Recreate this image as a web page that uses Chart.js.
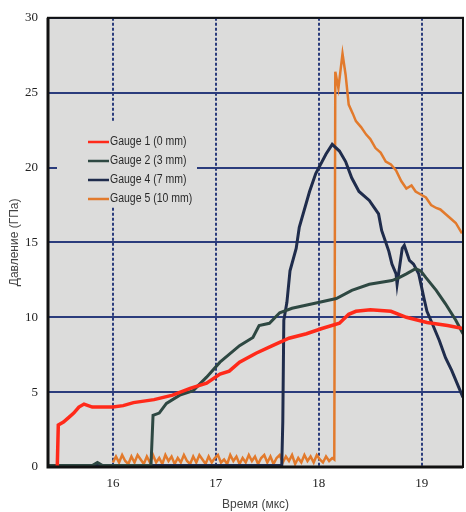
<!DOCTYPE html>
<html>

<head>
    <title>Gauges</title>
    <style>
        html, body {
            margin: 0;
            padding: 0;
            background: #ffffff;
        }
        #wrap {
            width: 466px;
            height: 512px;
        }
    </style>
</head>

<body>
    <div id="wrap">
        <canvas id="gaugeChart" width="466" height="512"></canvas>
    </div>

    <script src="https://cdn.jsdelivr.net/npm/chart.js"></script>

    <script>
        // values (time in us, pressure in GPa)
        const timeTicks = [16, 17, 18, 19]
        const pressureTicks = [0, 5, 10, 15, 20, 25, 30]
        const gaugeLabels = ["Gauge 1 (0 mm)", "Gauge 2 (3 mm)", "Gauge 4 (7 mm)", "Gauge 5 (10 mm)"]
        const gaugeColours = ["#ff2a1a", "#2e4842", "#1f2c4c", "#e27a2c"]

        const gauge1Time = [15.46, 15.47, 15.52, 15.57, 15.62, 15.67, 15.72, 15.8, 15.9, 16.0, 16.1, 16.2, 16.3, 16.4, 16.58, 16.75, 16.91, 17.04, 17.13, 17.23, 17.39, 17.55, 17.71, 17.88, 18.03, 18.2, 18.29, 18.36, 18.5, 18.7, 18.85, 19.05, 19.25, 19.4]
        const gauge1Pressure = [0, 2.8, 3.0, 3.3, 3.6, 4.0, 4.2, 4.0, 4.0, 4.0, 4.1, 4.3, 4.4, 4.5, 4.8, 5.25, 5.6, 6.2, 6.4, 7.0, 7.6, 8.1, 8.6, 8.9, 9.25, 9.6, 10.2, 10.4, 10.5, 10.4, 10.0, 9.65, 9.45, 9.25]

        const gauge2Time = [15.37, 15.8, 15.85, 15.9, 16.0, 16.37, 16.39, 16.45, 16.52, 16.65, 16.78, 16.91, 17.04, 17.23, 17.36, 17.42, 17.52, 17.62, 17.74, 17.94, 18.17, 18.32, 18.49, 18.71, 18.78, 18.85, 18.94, 18.99, 19.04, 19.14, 19.23, 19.33, 19.4]
        const gauge2Pressure = [0.1, 0.1, 0.3, 0.1, 0.1, 0.1, 3.45, 3.6, 4.25, 4.8, 5.1, 6.0, 7.0, 8.1, 8.65, 9.45, 9.6, 10.3, 10.6, 10.9, 11.25, 11.8, 12.2, 12.45, 12.65, 12.9, 13.25, 13.1, 12.65, 11.8, 10.9, 9.8, 8.9]

        const gauge4Time = [15.37, 16.0, 17.0, 17.64, 17.65, 17.66, 17.69, 17.72, 17.78, 17.81, 17.91, 17.97, 18.07, 18.13, 18.2, 18.26, 18.32, 18.39, 18.49, 18.58, 18.61, 18.68, 18.71, 18.75, 18.76, 18.81, 18.83, 18.88, 18.92, 18.97, 19.02, 19.05, 19.1, 19.17, 19.23, 19.29, 19.36, 19.4]
        const gauge4Pressure = [0.1, 0.1, 0.1, 0.1, 3.0, 9.8, 11.0, 13.1, 14.6, 16.0, 18.4, 19.6, 20.9, 21.55, 21.1, 20.4, 19.3, 18.4, 17.8, 16.9, 15.8, 14.4, 13.55, 12.9, 12.2, 14.6, 14.8, 13.8, 13.55, 12.9, 11.3, 10.4, 9.6, 8.45, 7.3, 6.45, 5.3, 4.65]

        const gauge5Time = [16.0, 16.03, 16.06, 16.09, 16.12, 16.15, 16.18, 16.21, 16.24, 16.27, 16.3, 16.33, 16.36, 16.39, 16.42, 16.45, 16.48, 16.51, 16.54, 16.57, 16.6, 16.63, 16.66, 16.69, 16.72, 16.75, 16.78, 16.81, 16.84, 16.87, 16.9, 16.93, 16.96, 16.99, 17.02, 17.05, 17.08, 17.11, 17.14, 17.17, 17.2, 17.23, 17.26, 17.29, 17.32, 17.35, 17.38, 17.41, 17.44, 17.47, 17.5, 17.53, 17.56, 17.59, 17.62, 17.65, 17.68, 17.71, 17.74, 17.77, 17.8, 17.83, 17.86, 17.89, 17.92, 17.95, 17.98, 18.01, 18.04, 18.07, 18.1, 18.13, 18.15, 18.16, 18.19, 18.23, 18.26, 18.29, 18.33, 18.36, 18.41, 18.46, 18.5, 18.55, 18.6, 18.65, 18.7, 18.75, 18.8, 18.85, 18.9, 18.94, 18.99, 19.04, 19.09, 19.14, 19.18, 19.23, 19.28, 19.33, 19.39]
        const gauge5Pressure = [0.3, 0.7, 0.3, 0.8, 0.4, 0.2, 0.7, 0.3, 0.8, 0.5, 0.2, 0.7, 0.3, 0.8, 0.3, 0.6, 0.2, 0.8, 0.4, 0.7, 0.2, 0.6, 0.3, 0.8, 0.4, 0.2, 0.7, 0.3, 0.8, 0.5, 0.2, 0.7, 0.3, 0.6, 0.8, 0.3, 0.5, 0.2, 0.8, 0.4, 0.7, 0.2, 0.6, 0.3, 0.8, 0.4, 0.7, 0.2, 0.6, 0.8, 0.3, 0.7, 0.2, 0.6, 0.8, 0.3, 0.7, 0.4, 0.8, 0.2, 0.6, 0.3, 0.8, 0.4, 0.7, 0.3, 0.8, 0.5, 0.3, 0.7, 0.4, 0.6, 0.5, 26.4, 25.3, 27.6, 26.2, 24.2, 23.6, 23.1, 22.7, 22.2, 21.9, 21.3, 21.0, 20.4, 20.2, 19.8, 19.1, 18.6, 18.8, 18.4, 18.2, 18.0, 17.5, 17.3, 17.2, 16.9, 16.6, 16.3, 15.6]

        const gaugeTimes = [gauge1Time, gauge2Time, gauge4Time, gauge5Time]
        const gaugePressures = [gauge1Pressure, gauge2Pressure, gauge4Pressure, gauge5Pressure]
        const lineWidths = [3.5, 3, 3, 2.5]

        const plotBg = "#dcdcdb"
        const gridColour = "#2b3c7c"

        let datasets = []
        for (let g = 0; g < gaugeLabels.length; g++) {
            let pts = []
            for (let i = 0; i < gaugeTimes[g].length; i++) {
                pts.push({ x: gaugeTimes[g][i], y: gaugePressures[g][i] })
            }
            datasets.push({
                label: gaugeLabels[g],
                data: pts,
                borderColor: gaugeColours[g],
                backgroundColor: gaugeColours[g],
                borderWidth: lineWidths[g],
                pointRadius: 0,
                tension: 0,
                fill: false
            })
        }

        // grey plot area + frame
        const plotFrame = {
            id: 'plotFrame',
            beforeDraw(chart) {
                const { ctx, chartArea: a } = chart
                ctx.save()
                ctx.fillStyle = plotBg
                ctx.fillRect(a.left, a.top, a.right - a.left, a.bottom - a.top)
                ctx.restore()
            },
            afterDraw(chart) {
                const { ctx, chartArea: a } = chart
                ctx.save()
                ctx.strokeStyle = "#111111"
                ctx.lineWidth = 2
                ctx.strokeRect(a.left, a.top, a.right - a.left, a.bottom - a.top)
                ctx.lineWidth = 3
                ctx.beginPath()
                ctx.moveTo(a.left, a.top)
                ctx.lineTo(a.left, a.bottom)
                ctx.lineTo(a.right, a.bottom)
                ctx.stroke()
                ctx.restore()
            }
        }

        // legend sitting inside the plot, covering the grid
        const insideLegend = {
            id: 'insideLegend',
            beforeDatasetsDraw(chart) {
                const ctx = chart.ctx
                ctx.save()
                ctx.fillStyle = plotBg
                ctx.fillRect(57, 121, 140, 86)
                ctx.font = '12.5px "Liberation Sans", Arial, sans-serif'
                ctx.textBaseline = 'middle'
                chart.data.datasets.forEach((ds, i) => {
                    const y = 142 + i * 19
                    ctx.strokeStyle = ds.borderColor
                    ctx.lineWidth = 2.5
                    ctx.beginPath()
                    ctx.moveTo(88, y)
                    ctx.lineTo(109, y)
                    ctx.stroke()
                    ctx.save()
                    ctx.translate(110, y)
                    ctx.scale(0.84, 1) // narrow face like the scan
                    ctx.fillStyle = "#2a2a2a"
                    ctx.fillText(ds.label, 0, 0)
                    ctx.restore()
                })
                ctx.restore()
            }
        }

        const ctx = document.getElementById('gaugeChart')
        new Chart(ctx, {
            type: 'line',
            data: { datasets: datasets },
            options: {
                responsive: false,
                animation: false,
                layout: { padding: { top: 15, right: 3, left: 0, bottom: 0 } },
                plugins: {
                    legend: { display: false },
                    tooltip: { enabled: false }
                },
                scales: {
                    x: {
                        type: 'linear',
                        min: 15.37,
                        max: 19.4,
                        afterBuildTicks: (scale) => { scale.ticks = timeTicks.map(v => ({ value: v })) },
                        afterFit: (scale) => { scale.height = 45 },
                        grid: { color: gridColour, lineWidth: 2, drawTicks: false },
                        border: { display: false, dash: [3, 2] },
                        ticks: {
                            padding: 9,
                            color: "#222222",
                            font: { family: '"Liberation Serif", "Times New Roman", serif', size: 13 }
                        },
                        title: {
                            display: true,
                            text: 'Время (мкс)',
                            color: "#444444",
                            padding: { top: 0, bottom: 0 },
                            font: { family: '"Liberation Sans", Arial, sans-serif', size: 12 }
                        }
                    },
                    y: {
                        min: 0,
                        max: 30,
                        afterBuildTicks: (scale) => { scale.ticks = pressureTicks.map(v => ({ value: v })) },
                        afterFit: (scale) => { scale.width = 48 },
                        grid: { color: gridColour, lineWidth: 2, drawTicks: false },
                        border: { display: false },
                        ticks: {
                            padding: 10,
                            color: "#222222",
                            font: { family: '"Liberation Serif", "Times New Roman", serif', size: 13 }
                        },
                        title: {
                            display: true,
                            text: 'Давление (ГПа)',
                            color: "#444444",
                            padding: { top: 7, bottom: 0 },
                            font: { family: '"Liberation Sans", Arial, sans-serif', size: 12 }
                        }
                    }
                }
            },
            plugins: [plotFrame, insideLegend]
        });
    </script>
</body>

</html>
